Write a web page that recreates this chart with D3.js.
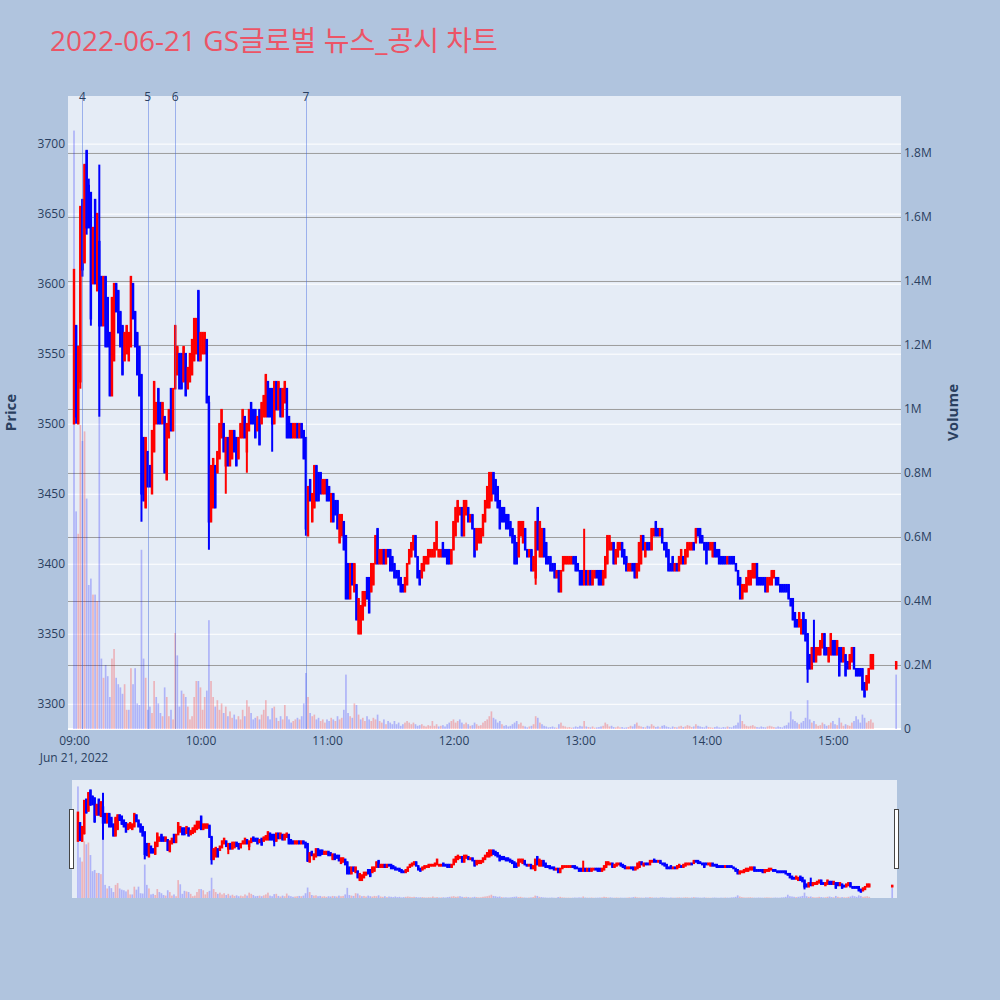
<!DOCTYPE html>
<html>
<head>
<meta charset="utf-8">
<script src="https://cdn.jsdelivr.net/npm/d3@7"></script>
<style>
  body { margin: 0; background: #b0c4de; }
  svg { display: block; font-family: "Open Sans", verdana, arial, "Noto Sans CJK KR", sans-serif; }
</style>
</head>
<body>
<div class="canva"></div>
<script>
// ---------------------------//
//            DATA            //
// ---------------------------//
const chartTitle = "2022-06-21 GS글로벌 뉴스_공시 차트";
const sessionStartText = "2022-06-21 09:00";   // first 1-minute candle
const previousDayClose = 3620;

// one candle per minute, 09:00 .. 15:19
const opens = [
  3500,3570,3500,3530,3660,3615,3695,3670,3665,3600, 3660,3595,3630,3605,3570,3605,3590,3565,3520,3545,
  3600,3595,3580,3570,3545,3550,3545,3555,3600,3580, 3565,3555,3535,3490,3440,3480,3470,3450,3480,3500,
  3525,3515,3500,3505,3460,3490,3525,3495,3525,3535, 3550,3550,3530,3550,3525,3530,3535,3545,3550,3595,
  3545,3550,3550,3560,3515,3430,3440,3470,3465,3475, 3490,3500,3470,3490,3470,3475,3495,3490,3475,3490,
  3490,3505,3480,3495,3515,3510,3510,3495,3510,3500, 3505,3505,3530,3525,3525,3500,3530,3510,3525,3505,
  3515,3525,3505,3500,3490,3490,3500,3490,3500,3495, 3490,3420,3460,3430,3440,3470,3465,3465,3450,3450,
  3460,3455,3430,3450,3445,3445,3415,3420,3430,3420, 3400,3375,3400,3380,3385,3350,3350,3360,3370,3390,
  3390,3380,3385,3400,3425,3400,3400,3410,3400,3410, 3410,3405,3400,3395,3395,3390,3385,3380,3385,3400,
  3405,3410,3420,3405,3395,3390,3395,3400,3400,3405, 3405,3405,3410,3405,3405,3415,3410,3410,3410,3400,
  3410,3420,3430,3435,3440,3420,3435,3440,3430,3435, 3425,3410,3415,3415,3420,3430,3440,3440,3445,3465,
  3460,3455,3445,3440,3440,3435,3435,3430,3425,3420, 3415,3405,3420,3415,3425,3410,3405,3410,3395,3390,
  3440,3405,3405,3425,3415,3405,3405,3400,3400,3390, 3395,3380,3395,3400,3400,3400,3400,3405,3405,3400,
  3395,3395,3385,3395,3385,3395,3385,3390,3395,3395, 3395,3385,3390,3400,3410,3410,3415,3400,3405,3410,
  3415,3410,3405,3395,3395,3400,3400,3390,3395,3400, 3420,3405,3415,3415,3410,3420,3430,3425,3420,3425,
  3415,3415,3410,3400,3405,3395,3400,3395,3400,3405, 3400,3405,3410,3410,3415,3415,3425,3425,3420,3415,
  3415,3415,3410,3405,3415,3410,3410,3405,3405,3405, 3400,3405,3405,3405,3400,3395,3390,3375,3380,3380,
  3385,3385,3390,3390,3400,3390,3390,3390,3390,3380, 3385,3385,3390,3390,3390,3385,3385,3385,3385,3385,
  3375,3375,3365,3360,3355,3350,3365,3360,3350,3335, 3325,3340,3330,3335,3335,3340,3350,3340,3330,3335,
  3345,3345,3335,3340,3340,3330,3335,3330,3325,3330, 3340,3325,3325,3325,3325,3315,3310,3315,3325,3325
];
const highs = [
  3610,3570,3555,3655,3660,3685,3695,3675,3665,3640, 3660,3650,3685,3605,3605,3605,3590,3565,3590,3600,
  3600,3595,3580,3570,3565,3570,3565,3605,3600,3580, 3565,3555,3535,3490,3490,3480,3470,3495,3530,3515,
  3525,3515,3515,3505,3500,3510,3525,3525,3570,3555, 3550,3550,3555,3550,3540,3550,3560,3575,3575,3595,
  3565,3565,3565,3560,3520,3470,3475,3470,3480,3500, 3510,3500,3490,3490,3495,3495,3495,3490,3490,3500,
  3510,3505,3500,3510,3515,3510,3510,3505,3510,3515, 3520,3535,3530,3525,3525,3530,3530,3530,3525,3525,
  3530,3525,3505,3500,3500,3500,3500,3500,3500,3495, 3490,3455,3460,3450,3470,3470,3465,3465,3460,3460,
  3460,3455,3450,3450,3445,3445,3435,3435,3430,3420, 3400,3400,3400,3400,3385,3375,3370,3380,3380,3390,
  3390,3400,3400,3420,3425,3410,3410,3410,3410,3410, 3410,3405,3400,3395,3395,3390,3385,3390,3400,3410,
  3415,3420,3420,3405,3395,3400,3405,3405,3410,3410, 3410,3415,3430,3410,3410,3415,3410,3410,3410,3410,
  3430,3440,3445,3440,3440,3445,3445,3440,3435,3435, 3425,3425,3425,3425,3435,3445,3455,3465,3465,3465,
  3460,3455,3445,3440,3440,3435,3435,3430,3425,3420, 3415,3430,3430,3430,3425,3410,3410,3410,3405,3430,
  3440,3430,3425,3425,3415,3405,3405,3400,3400,3395, 3395,3395,3405,3405,3405,3405,3405,3405,3405,3400,
  3395,3395,3425,3395,3395,3395,3395,3395,3395,3395, 3395,3395,3405,3420,3420,3415,3415,3410,3415,3415,
  3415,3410,3405,3400,3400,3400,3400,3400,3415,3420, 3420,3415,3415,3415,3425,3425,3430,3425,3425,3425,
  3415,3415,3410,3400,3405,3400,3400,3405,3410,3405, 3410,3415,3415,3415,3415,3425,3425,3425,3420,3415,
  3415,3415,3415,3415,3415,3410,3410,3405,3405,3405, 3405,3405,3405,3405,3400,3395,3390,3385,3385,3390,
  3395,3395,3400,3400,3400,3390,3390,3390,3390,3390, 3390,3395,3395,3390,3390,3385,3385,3385,3385,3385,
  3375,3375,3365,3360,3365,3360,3365,3360,3350,3335, 3340,3360,3340,3340,3345,3350,3350,3340,3340,3350,
  3345,3345,3345,3340,3340,3340,3335,3330,3335,3340, 3340,3325,3325,3325,3325,3315,3320,3325,3335,3335
];
const lows = [
  3500,3500,3500,3525,3605,3615,3635,3640,3570,3600, 3600,3595,3505,3570,3570,3555,3555,3520,3520,3545,
  3580,3565,3555,3535,3545,3550,3545,3555,3575,3555, 3535,3520,3430,3445,3440,3455,3455,3450,3480,3500,
  3500,3500,3500,3465,3460,3490,3495,3495,3525,3535, 3525,3525,3530,3520,3525,3530,3535,3545,3550,3545,
  3545,3550,3550,3515,3410,3430,3440,3440,3465,3475, 3490,3480,3450,3470,3470,3475,3480,3470,3475,3490,
  3490,3490,3465,3495,3500,3500,3490,3495,3485,3500, 3505,3505,3505,3505,3480,3500,3510,3510,3505,3505,
  3515,3490,3490,3490,3490,3490,3490,3490,3490,3475, 3420,3420,3445,3430,3440,3445,3445,3450,3450,3450,
  3445,3445,3430,3430,3435,3425,3415,3420,3410,3375, 3375,3375,3385,3380,3360,3350,3350,3360,3370,3375,
  3365,3380,3385,3400,3400,3400,3400,3400,3400,3405, 3395,3395,3390,3390,3385,3380,3380,3380,3385,3400,
  3405,3410,3405,3390,3385,3390,3395,3400,3400,3405, 3405,3405,3410,3405,3405,3405,3405,3400,3400,3400,
  3410,3420,3430,3435,3420,3420,3435,3430,3430,3425, 3405,3410,3415,3415,3420,3430,3440,3440,3445,3450,
  3445,3440,3425,3430,3430,3425,3425,3420,3415,3400, 3400,3405,3420,3415,3410,3405,3405,3395,3395,3385,
  3410,3405,3405,3405,3400,3400,3395,3395,3390,3390, 3380,3380,3395,3400,3400,3400,3400,3400,3395,3395,
  3385,3385,3385,3385,3385,3385,3385,3390,3390,3385, 3385,3385,3390,3400,3410,3410,3400,3400,3405,3410,
  3405,3400,3395,3395,3395,3395,3390,3390,3395,3400, 3410,3405,3410,3410,3410,3420,3420,3420,3420,3415,
  3410,3405,3395,3395,3395,3395,3395,3395,3400,3400, 3400,3405,3410,3410,3410,3415,3420,3415,3415,3410,
  3400,3410,3410,3405,3405,3405,3400,3400,3400,3400, 3400,3400,3400,3400,3395,3385,3375,3375,3380,3380,
  3385,3385,3390,3390,3385,3385,3385,3385,3380,3380, 3385,3385,3390,3385,3385,3380,3380,3380,3380,3375,
  3370,3360,3355,3355,3355,3350,3350,3345,3315,3325, 3325,3330,3330,3335,3335,3340,3335,3335,3330,3335,
  3335,3335,3335,3320,3330,3330,3320,3325,3325,3330, 3325,3320,3320,3320,3310,3305,3310,3315,3325,3325
];
const closes = [
  3610,3505,3555,3655,3610,3685,3640,3640,3575,3640, 3600,3650,3570,3570,3605,3555,3555,3520,3590,3600,
  3580,3565,3555,3535,3565,3570,3565,3605,3575,3555, 3535,3520,3450,3445,3490,3455,3455,3495,3530,3515,
  3500,3500,3515,3465,3500,3510,3495,3525,3570,3555, 3525,3525,3555,3520,3540,3550,3560,3575,3575,3545,
  3565,3565,3565,3515,3430,3470,3475,3440,3480,3500, 3510,3480,3490,3470,3495,3495,3480,3470,3490,3500,
  3510,3490,3500,3510,3500,3500,3490,3505,3485,3515, 3520,3535,3505,3505,3500,3530,3510,3530,3505,3525,
  3530,3490,3490,3490,3500,3500,3490,3500,3490,3475, 3425,3455,3445,3450,3470,3445,3445,3450,3460,3460,
  3445,3445,3450,3430,3435,3425,3435,3435,3410,3375, 3375,3400,3385,3400,3360,3375,3370,3380,3380,3375,
  3365,3400,3400,3420,3400,3410,3410,3400,3410,3405, 3395,3395,3390,3390,3385,3380,3380,3390,3400,3410,
  3415,3420,3405,3390,3385,3400,3405,3405,3410,3410, 3410,3415,3430,3410,3410,3405,3405,3400,3400,3410,
  3430,3440,3445,3440,3420,3445,3445,3430,3435,3425, 3405,3425,3425,3425,3435,3445,3455,3465,3465,3450,
  3445,3440,3425,3430,3430,3425,3425,3420,3415,3400, 3400,3430,3430,3430,3410,3405,3410,3395,3405,3430,
  3410,3430,3425,3405,3400,3400,3395,3395,3390,3395, 3380,3395,3405,3405,3405,3405,3405,3400,3395,3395,
  3385,3385,3395,3385,3395,3385,3395,3395,3390,3385, 3385,3395,3405,3420,3420,3415,3400,3410,3415,3415,
  3405,3400,3395,3400,3400,3395,3390,3400,3415,3420, 3410,3415,3410,3410,3425,3425,3420,3420,3425,3415,
  3410,3405,3395,3395,3395,3400,3395,3405,3410,3400, 3410,3415,3415,3415,3410,3425,3420,3415,3415,3410,
  3400,3410,3415,3415,3405,3405,3400,3400,3400,3400, 3405,3400,3400,3400,3395,3385,3375,3385,3385,3390,
  3395,3395,3400,3400,3385,3385,3385,3385,3380,3390, 3390,3395,3395,3385,3385,3380,3380,3380,3380,3375,
  3370,3360,3355,3355,3365,3360,3350,3345,3325,3325, 3340,3330,3340,3340,3345,3350,3335,3335,3340,3350,
  3335,3335,3345,3320,3330,3340,3320,3325,3335,3340, 3325,3320,3320,3320,3310,3305,3320,3325,3335,3335
];
// traded volume per minute, in thousands of shares
const volumesK = [
  1870,680,610,950,900,930,720,450,470,420, 420,400,1500,220,160,200,165,100,220,250,
  160,140,130,110,140,60,60,190,140,190, 80,75,560,220,160,60,70,50,150,100,
  80,50,40,130,100,40,60,30,300,230, 70,120,110,100,70,30,40,100,150,150,
  130,60,100,120,340,150,100,70,90,60, 80,50,70,40,55,35,45,30,40,30,
  60,40,90,70,50,30,35,40,30,45, 60,90,40,30,65,70,35,25,40,30,
  75,40,30,20,25,30,35,30,40,80, 175,100,50,40,45,30,35,25,30,20,
  30,25,35,30,25,40,30,35,60,170, 50,40,35,80,75,45,30,35,25,40,
  30,25,35,30,45,25,20,30,15,25, 20,15,25,15,20,10,15,20,25,20,
  15,20,15,10,12,15,10,8,12,10, 25,10,15,8,10,12,8,15,20,25,
  30,20,25,30,20,15,20,15,10,12, 20,15,10,12,20,25,30,40,55,35,
  30,20,25,15,10,12,8,10,15,20, 25,15,20,10,8,5,8,10,15,40,
  35,20,15,10,8,5,6,8,5,4, 15,20,10,8,5,6,4,5,8,6,
  10,8,25,8,6,5,8,4,5,6, 8,10,20,15,8,10,6,5,8,5,
  6,4,5,6,10,8,15,20,10,8, 6,5,10,8,15,10,6,8,5,10,
  12,8,6,4,8,6,5,8,10,6, 8,12,10,6,8,15,10,8,6,5,
  10,6,5,4,6,8,5,4,6,5, 8,6,5,10,12,20,45,25,15,10,
  8,10,12,8,6,5,8,6,5,8, 10,8,6,5,8,6,5,10,12,20,
  55,30,25,20,15,20,25,35,90,30, 20,25,15,10,12,20,15,10,12,20,
  25,15,12,35,20,10,15,12,10,20, 25,40,30,20,45,35,20,25,30,20
];
// closing single-price auction
const auctionTimeText = "2022-06-21 15:30";
const auctionOHLC = [3325, 3330, 3325, 3330];
const auctionVolumeK = 170;

// news / disclosure markers
const newsLabels = ["4", "5", "6", "7"];
const newsTimes = ["2022-06-21 09:04", "2022-06-21 09:35", "2022-06-21 09:48", "2022-06-21 10:50"];

// axes
const priceTicks = [3300, 3350, 3400, 3450, 3500, 3550, 3600, 3650, 3700];
const volumeTicks = [0, 200000, 400000, 600000, 800000, 1000000, 1200000, 1400000, 1600000, 1800000];
const hourTicks = ["09:00", "10:00", "11:00", "12:00", "13:00", "14:00", "15:00"];
const dateLabel = "Jun 21, 2022";

// ---------------------------//
//           SETUP            //
// ---------------------------//
const parseTime = d3.timeParse("%Y-%m-%d %H:%M");
const parseSec = d3.timeParse("%Y-%m-%d %H:%M:%S");
const sessionStart = parseTime(sessionStartText);

const rows = closes.map((c, i) => ({
  time: d3.timeMinute.offset(sessionStart, i),
  open: opens[i], high: highs[i], low: lows[i], close: c,
  volume: volumesK[i] * 1000
}));
rows.push({
  time: parseTime(auctionTimeText),
  open: auctionOHLC[0], high: auctionOHLC[1], low: auctionOHLC[2], close: auctionOHLC[3],
  volume: auctionVolumeK * 1000
});
rows.forEach((d, i) => {
  const prev = i ? rows[i - 1].close : previousDayClose;
  d.up = d.close > d.open;
  d.volUp = d.close > prev || (d.close === prev && d.up);
});

const plot = {left: 68, right: 901, top: 96, bottom: 729};
const slider = {left: 72, right: 897, top: 780, bottom: 898};
const xDomain = [parseSec("2022-06-21 08:57:09"), parseSec("2022-06-21 15:32:18")];
const priceDomain = [3282, 3734];
const volumeDomain = [0, 1978000];

const textColor = "#2a3f5f";
const upColor = "#ff0000", downColor = "#0000ff";

const svg = d3.select(".canva").append("svg")
  .attr("width", 1000)
  .attr("height", 1000);

svg.append("rect").attr("width", 1000).attr("height", 1000).attr("fill", "#b0c4de");

// title
svg.append("text")
  .attr("x", 50).attr("y", 51)
  .attr("font-size", 28)
  .attr("fill", "#ec5466")
  .text(chartTitle);

// ---------------------------//
//         MAIN PANEL         //
// ---------------------------//
const x = d3.scaleTime().domain(xDomain).range([plot.left, plot.right]);
const yPrice = d3.scaleLinear().domain(priceDomain).range([plot.bottom, plot.top]);
const yVol = d3.scaleLinear().domain(volumeDomain).range([plot.bottom, plot.top]);

svg.append("rect")
  .attr("x", plot.left).attr("y", plot.top)
  .attr("width", plot.right - plot.left).attr("height", plot.bottom - plot.top)
  .attr("fill", "#e5ecf6");

// white price grid
svg.append("g")
  .attr("transform", `translate(${plot.left},0)`)
  .call(d3.axisLeft(yPrice).tickValues(priceTicks).tickSize(-(plot.right - plot.left)).tickFormat(""))
  .call(g => g.select(".domain").remove())
  .call(g => g.selectAll("line").attr("stroke", "#fff").attr("stroke-width", 1));

// grey volume grid
svg.append("g")
  .attr("transform", `translate(${plot.right},0)`)
  .call(d3.axisRight(yVol).tickValues(volumeTicks.slice(1)).tickSize(-(plot.right - plot.left)).tickFormat(""))
  .call(g => g.select(".domain").remove())
  .call(g => g.selectAll("line").attr("stroke", "#9c9c9c").attr("stroke-width", 1));

// zero line
svg.append("line")
  .attr("x1", plot.left).attr("x2", plot.right)
  .attr("y1", yVol(0)).attr("y2", yVol(0))
  .attr("stroke", "#fff").attr("stroke-width", 2);

svg.append("clipPath").attr("id", "clipMain")
  .append("rect")
  .attr("x", plot.left).attr("y", plot.top)
  .attr("width", plot.right - plot.left).attr("height", plot.bottom - plot.top);

const minuteW = x(d3.timeMinute.offset(sessionStart, 1)) - x(sessionStart);

function drawTraces(g, xs, yp, yv) {
  // volume bars
  g.selectAll(".vol")
    .data(rows)
    .enter()
    .append("rect")
      .attr("class", "vol")
      .attr("x", d => xs(d.time) - minuteW * 0.4)
      .attr("width", minuteW * 0.8)
      .attr("y", d => yv(d.volume))
      .attr("height", d => yv(0) - yv(d.volume))
      .attr("fill", d => d.volUp ? upColor : downColor)
      .attr("fill-opacity", 0.24);

  // candles
  const candle = g.selectAll(".candle")
    .data(rows)
    .enter()
    .append("g")
      .attr("class", "candle")
      .attr("stroke", d => d.up ? upColor : downColor)
      .attr("fill", d => d.up ? upColor : downColor);

  candle.append("line")
    .attr("x1", d => xs(d.time)).attr("x2", d => xs(d.time))
    .attr("y1", d => yp(d.high)).attr("y2", d => yp(d.low))
    .attr("stroke-width", 2);

  candle.append("rect")
    .attr("x", d => xs(d.time) - minuteW * 0.2)
    .attr("width", minuteW * 0.4)
    .attr("y", d => yp(Math.max(d.open, d.close)))
    .attr("height", d => Math.abs(yp(d.open) - yp(d.close)))
    .attr("stroke-width", 1.6);
}

const mainG = svg.append("g").attr("clip-path", "url(#clipMain)");
drawTraces(mainG, x, yPrice, yVol);

// news marker lines
const newsData = newsLabels.map((label, i) => ({label, time: parseTime(newsTimes[i])}));
svg.selectAll(".news")
  .data(newsData)
  .enter()
  .append("line")
    .attr("class", "news")
    .attr("x1", d => Math.round(x(d.time)) + 0.5).attr("x2", d => Math.round(x(d.time)) + 0.5)
    .attr("y1", plot.top).attr("y2", plot.bottom)
    .attr("stroke", "royalblue")
    .attr("stroke-opacity", 0.45)
    .attr("stroke-width", 1);

svg.selectAll(".newsLabel")
  .data(newsData)
  .enter()
  .append("text")
    .attr("class", "newsLabel")
    .attr("x", d => x(d.time))
    .attr("y", 101)
    .attr("text-anchor", "middle")
    .attr("font-size", 12)
    .attr("fill", textColor)
    .text(d => d.label);

// axis labels
const priceAxis = svg.append("g")
  .attr("transform", `translate(${plot.left},0)`)
  .call(d3.axisLeft(yPrice).tickValues(priceTicks).tickSize(0).tickPadding(3)
    .tickFormat(d3.format("d")));
const volAxis = svg.append("g")
  .attr("transform", `translate(${plot.right},0)`)
  .call(d3.axisRight(yVol).tickValues(volumeTicks).tickSize(0).tickPadding(3)
    .tickFormat(v => v === 0 ? "0" : `${+(v / 1e6).toFixed(1)}M`));
const hourDates = hourTicks.map(h => parseTime(`2022-06-21 ${h}`));
const timeAxis = svg.append("g")
  .attr("transform", `translate(0,${plot.bottom})`)
  .call(d3.axisBottom(x).tickValues(hourDates).tickSize(0).tickPadding(7)
    .tickFormat(d3.timeFormat("%H:%M")));

[priceAxis, volAxis, timeAxis].forEach(a => {
  a.select(".domain").remove();
  a.selectAll("text")
    .attr("font-size", 12)
    .attr("font-family", "\"Open Sans\", verdana, arial, sans-serif")
    .attr("fill", textColor);
});

svg.append("text")
  .attr("x", x(hourDates[0])).attr("y", 762)
  .attr("text-anchor", "middle")
  .attr("font-size", 12)
  .attr("fill", textColor)
  .text(dateLabel);

// axis titles
svg.append("text")
  .attr("transform", `translate(16,${(plot.top + plot.bottom) / 2}) rotate(-90)`)
  .attr("text-anchor", "middle")
  .attr("font-size", 15)
  .attr("font-weight", "bold")
  .attr("fill", textColor)
  .text("Price");
svg.append("text")
  .attr("transform", `translate(958,${(plot.top + plot.bottom) / 2}) rotate(-90)`)
  .attr("text-anchor", "middle")
  .attr("font-size", 15)
  .attr("font-weight", "bold")
  .attr("fill", textColor)
  .text("Volume");

// ---------------------------//
//        RANGE SLIDER        //
// ---------------------------//
const xs = d3.scaleTime().domain(xDomain).range([slider.left, slider.right]);
const ysPrice = d3.scaleLinear().domain(priceDomain).range([slider.bottom, slider.top]);
const ysVol = d3.scaleLinear().domain(volumeDomain).range([slider.bottom, slider.top]);

svg.append("rect")
  .attr("x", slider.left).attr("y", slider.top)
  .attr("width", slider.right - slider.left).attr("height", slider.bottom - slider.top)
  .attr("fill", "#e5ecf6");

svg.append("clipPath").attr("id", "clipSlider")
  .append("rect")
  .attr("x", slider.left).attr("y", slider.top)
  .attr("width", slider.right - slider.left).attr("height", slider.bottom - slider.top);

const sliderG = svg.append("g").attr("clip-path", "url(#clipSlider)");
drawTraces(sliderG, xs, ysPrice, ysVol);

// handles
const handleH = 59;
[slider.left, slider.right].forEach(hx => {
  svg.append("rect")
    .attr("x", hx - 2.5).attr("y", (slider.top + slider.bottom) / 2 - handleH / 2)
    .attr("width", 4).attr("height", handleH)
    .attr("fill", "#fff")
    .attr("stroke", "#444")
    .attr("stroke-width", 1);
});
</script>
</body>
</html>
